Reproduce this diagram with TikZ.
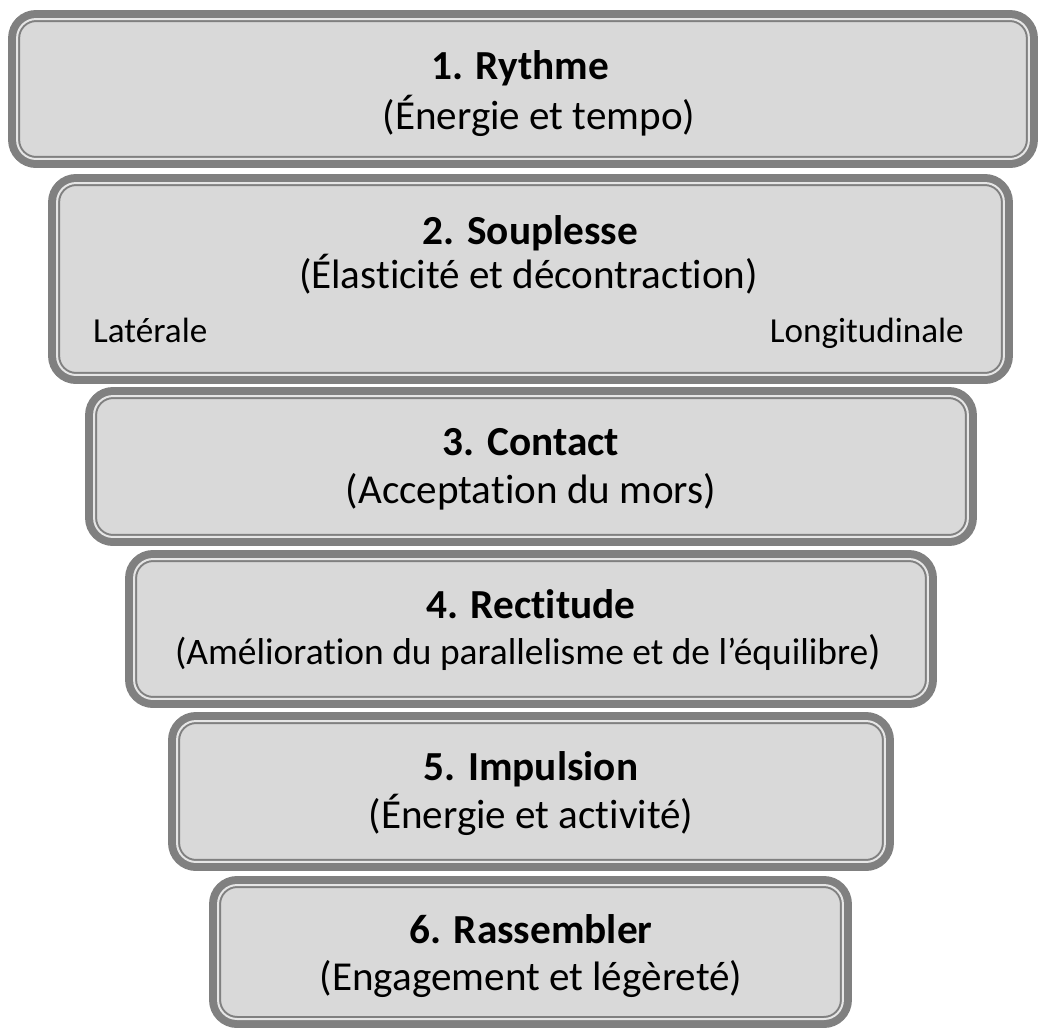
\documentclass[tikz,border=0pt]{standalone}
\usepackage{fontspec}
\setmainfont{Carlito}[Ligatures=NoCommon]
\definecolor{bandgray}{HTML}{808080}
\definecolor{boxfill}{HTML}{D9D9D9}
\definecolor{edgelight}{HTML}{E6E6E6}
\newcommand{\nolig}{\kern0pt}
\tikzset{
  tier/.style={rectangle, draw=bandgray, line width=0.24cm, fill=boxfill,
    rounded corners=0.44cm, outer sep=0pt, inner sep=0pt},
  tierline/.style={draw=edgelight, line width=0.04cm, rounded corners=0.38cm},
  head/.style={font=\fontsize{23.5}{27}\selectfont\bfseries, anchor=base},
  sub/.style={font=\fontsize{23.4}{27}\selectfont, anchor=base},
  side/.style={font=\fontsize{20}{23}\selectfont}
}

\begin{document}
\begin{tikzpicture}[x=0.02cm, y=-0.02cm]
\useasboundingbox (0,0) rectangle (1039,1029);
% the six tiers
\node[tier, minimum width=20.36cm, minimum height=2.92cm] (r1) at (523,89) {};
\node[tier, minimum width=19.06cm, minimum height=3.96cm] (r2) at (530.5,279) {};
\node[tier, minimum width=17.6cm, minimum height=2.94cm] (r3) at (531,466.5) {};
\node[tier, minimum width=16cm, minimum height=2.92cm] (r4) at (531,629) {};
\node[tier, minimum width=14.28cm, minimum height=2.94cm] (r5) at (531,791.5) {};
\node[tier, minimum width=12.62cm, minimum height=2.8cm] (r6) at (530.5,952) {};
\foreach \n in {r1,r2,r3,r4,r5,r6}
  \draw[tierline] ([xshift=0.06cm,yshift=-0.06cm]\n.north west)
    rectangle ([xshift=-0.06cm,yshift=0.06cm]\n.south east);
% texts
\node[head] (t1) at (520,79) {1. Rythme};
\node[sub] (s1) at (539,129) {(Énergie et tempo)};
\node[head] (t2) at (530.5,244) {2. Souplesse};
\node[sub] (s2) at (528.5,288) {(Élast\nolig icité et décontract\nolig ion)};
\node[side, anchor=base west] (lat) at (87,342) {Latérale};
\node[side, anchor=base east] (lon) at (970,342) {Longitudinale};
\node[head] (t3) at (531,455) {3. Contact};
\node[sub] (s3) at (531,503) {(Acceptat\nolig ion du mors)};
\node[head] (t4) at (531,618) {4. Rect\nolig itude};
\node[sub] (s4) at (528,664) {\fontsize{21.3}{25}\selectfont(Améliorat\nolig ion du parallelisme et de l’équilibre\fontsize{23.4}{27}\selectfont)};
\node[head] (t5) at (531,780) {5. Impulsion};
\node[sub] (s5) at (531,828) {(Énergie et act\nolig ivité)};
\node[head] (t6) at (531,943) {6. Rassembler};
\node[sub] (s6) at (531,990) {(Engagement et légèreté)};
\end{tikzpicture}
\end{document}
